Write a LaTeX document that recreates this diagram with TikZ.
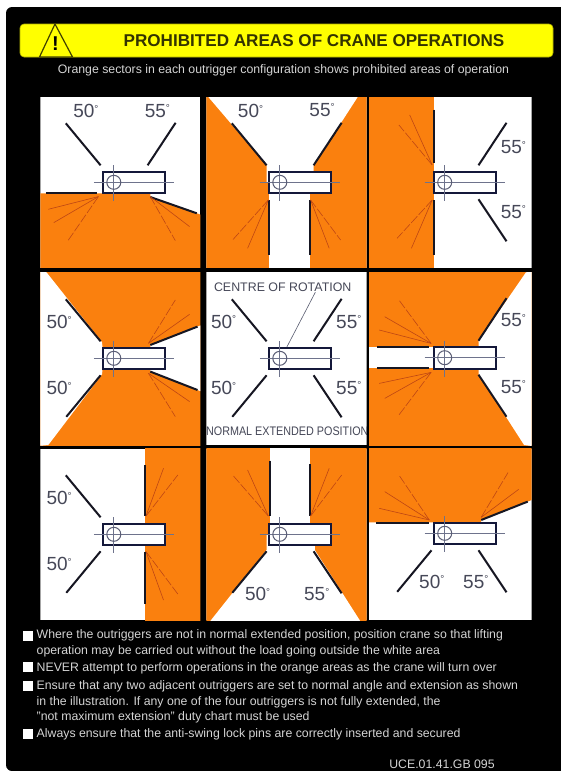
\documentclass[tikz,border=0pt]{standalone}
\usepackage{fontspec}
\setmainfont{Liberation Sans}
\usetikzlibrary{calc,positioning}
\definecolor{craneorange}{RGB}{250,128,14}
\definecolor{signyellow}{RGB}{255,255,0}
\definecolor{rigblack}{RGB}{22,22,34}
\definecolor{framenavy}{RGB}{20,24,58}
\definecolor{crossgrey}{RGB}{110,115,140}
\definecolor{fanred}{RGB}{190,70,20}
\definecolor{labgrey}{RGB}{70,72,88}
\definecolor{notegrey}{RGB}{212,212,212}
\tikzset{
  rigger/.style={rigblack,line width=2pt},
  fanline/.style={fanred,line width=0.6pt},
  fandash/.style={fanline,dashed,dash pattern=on 9pt off 2pt},
  crossline/.style={crossgrey,line width=0.9pt},
  frame/.style={draw=framenavy,fill=white,line width=2pt},
  pivot/.style={draw=framenavy!70,line width=1pt},
  angle/.style={font=\fontsize{19}{21}\selectfont,text=labgrey,inner sep=0pt},
  small/.style={font=\fontsize{12.4}{14}\selectfont,text=labgrey,inner sep=0pt},
  note/.style={anchor=west,font=\fontsize{12.3}{14}\selectfont,text=notegrey,inner sep=0pt},
  tick/.style={fill=white,minimum size=10pt,inner sep=0pt},
}
\newcommand{\dg}{\raisebox{5.5pt}{\fontsize{10}{10}\selectfont °}}
% corner, corner, centre of rotation, contents
\newcommand{\sheet}[4]{%
  \begin{scope}
    \clip #1 rectangle #2;
    \fill[white] #1 rectangle #2;
    \begin{scope}[shift={#3}]
      #4
      \draw[frame] (-10.5,-10.7) rectangle (51,11);
      \draw[crossline] (-20,0) -- (60,0);
      \draw[crossline] (0,-17) -- (0,19);
      \draw[pivot] (0,0) circle (7);
    \end{scope}
  \end{scope}}
\newcommand{\rigUL}{\draw[rigger] (-13.2,-17) -- (-48,-59);}
\newcommand{\rigUR}{\draw[rigger] (33.8,-17) -- (61.8,-59.5);}
\newcommand{\rigDL}{\draw[rigger] (-13.2,17) -- (-47.5,58.5);}
\newcommand{\rigDR}{\draw[rigger] (33.8,17) -- (61.8,59);}

\begin{document}
\begin{tikzpicture}[x=1pt,y=-1pt]
  \path[use as bounding box] (0,0) rectangle (561,771);
  \fill[black,rounded corners=6pt] (6,771) -- (6,7) -- (570,7) -- (570,771) -- cycle;

  % heading
  \draw[signyellow!70!black,fill=signyellow,rounded corners=4pt,line width=0.6pt] (20,24) rectangle (553,57);
  \draw[black!75!signyellow,fill=signyellow,line width=1.2pt,line join=round] (55,24) -- (72.5,57) -- (39.5,57) -- cycle;
  \node[font=\fontsize{20}{22}\bfseries\selectfont,inner sep=0pt] (warnmark) at (55.5,44) {!};
  \node[font=\fontsize{17.1}{19}\bfseries\selectfont,text=black!80!signyellow,inner sep=0pt] (title) at (314,41)
    {PROHIBITED AREAS OF CRANE OPERATIONS};
  \node[font=\fontsize{12.3}{14}\selectfont,text=notegrey,inner sep=0pt] (subtitle) at (283.5,70.7)
    {Orange sectors in each outrigger configuration shows prohibited areas of operation};

  % top row
  \sheet{(40.4,97.3)}{(200.4,267.7)}{(113.8,182.3)}{
    \fill[craneorange] (-80,11) -- (36.5,11) -- (36.5,14.7) -- (83,31) -- (100,37) -- (100,100) -- (-80,100) -- cycle;
    \rigUL \rigUR
    \draw[rigger] (-68,10.7) -- (-16.5,10.7);
    \draw[rigger] (36.5,14.7) -- (83,31);
    \draw[fanline] (-15.4,14.3) -- (-65.5,27);
    \draw[fanline] (-15.4,14.3) -- (-60,40.3);
    \draw[fandash] (-15.4,14.3) -- (-45.8,58.3);
    \draw[fanline] (36.5,14.3) -- (75.8,44.3);
    \draw[fandash] (36.5,14.3) -- (61.5,58.3);
    \node[angle] (a50) at (-27.9,-71.3) {50\dg};
    \node[angle] (a55) at (43.6,-71.3) {55\dg};
  }
  \sheet{(206.4,97.3)}{(366.7,267.7)}{(279.8,182.3)}{
    \fill[craneorange] (-100,-100) rectangle (100,100);
    \fill[white] (-72.5,-86.5) -- (-13.2,-17) -- (-13.2,0) -- (33.8,0) -- (33.8,-17) -- (79,-87) -- cycle;
    \fill[white] (-10.7,0) rectangle (29.7,100);
    \rigUL \rigUR
    \draw[rigger] (-10.7,17.7) -- (-10.7,72.7);
    \draw[rigger] (29.7,17.7) -- (29.7,72.7);
    \draw[fandash] (-11.5,17.7) -- (-47.2,57.7);
    \draw[fanline] (-11.5,17.7) -- (-32.2,66);
    \draw[fandash] (30.8,17.7) -- (60.8,57.7);
    \draw[fanline] (30.8,17.7) -- (49.4,66);
    \node[angle] (b50) at (-29.3,-71.3) {50\dg};
    \node[angle] (b55) at (42.2,-72.3) {55\dg};
  }
  \sheet{(369,97.3)}{(531.5,267.7)}{(444.7,182.3)}{
    \fill[craneorange] (-100,-100) rectangle (-10.7,100);
    \rigUR \rigDR
    \draw[rigger] (-10.7,-72.7) -- (-10.7,-19);
    \draw[rigger] (-10.7,17.7) -- (-10.7,72.7);
    \draw[fandash] (-12.5,-17.3) -- (-45.8,-57.3);
    \draw[fanline] (-12.5,-17.3) -- (-35,-67.3);
    \draw[fandash] (-12.5,17.7) -- (-47.6,56);
    \draw[fanline] (-12.5,17.7) -- (-33.3,66);
    \node[angle] (c55) at (68.7,-35) {55\dg};
    \node[angle] (c55b) at (68.7,29.3) {55\dg};
  }

  % middle row
  \sheet{(40.4,272)}{(200.4,445)}{(113.8,358.3)}{
    \fill[craneorange] (-100,-100) rectangle (100,100);
    \fill[white] (-67.3,-86) -- (-11.8,-16) -- (-10,0) -- (-11.8,16) -- (-65.5,86.7) -- (-100,90) -- (-100,-90) -- cycle;
    \fill[white] (36.5,-13.3) -- (83.7,-31.7) -- (100,-38) -- (100,38) -- (83.7,31.7) -- (36.5,13.3) -- cycle;
    \rigUL \rigDL
    \draw[rigger] (36.5,-13.3) -- (83.7,-31.7);
    \draw[rigger] (36.5,13.3) -- (83.7,31.7);
    \draw[fandash] (34.7,-15) -- (61.5,-58.3);
    \draw[fanline] (34.7,-15) -- (75.8,-44);
    \draw[fanline] (34.7,15) -- (75.8,43.3);
    \draw[fandash] (34.7,15) -- (61.5,58.3);
    \node[angle] (d50) at (-54.7,-36) {50\dg};
    \node[angle] (d50b) at (-54.7,30) {50\dg};
  }
  \sheet{(206.4,272)}{(366.7,445)}{(279.8,358.3)}{
    \rigUL \rigUR \rigDL \rigDR
    \node[angle] (e50) at (-56.2,-36.7) {50\dg};
    \node[angle] (e50b) at (-56.2,30) {50\dg};
    \node[angle] (e55) at (69,-36.7) {55\dg};
    \node[angle] (e55b) at (69,29.3) {55\dg};
    \node[small] (rotlabel) at (2.9,-70.7) {CENTRE OF ROTATION};
    \node[small] (extlabel) at (7.5,73.3) {\scalebox{0.87}[1]{NORMAL EXTENDED POSITION}};
    \coordinate (rotpoint) at (2.9,-3.3);
    \draw[crossgrey!80!black,line width=0.6pt] (rotlabel.-8) -- (rotpoint);
  }
  \sheet{(369,272)}{(531.5,445)}{(444.7,357.7)}{
    \fill[craneorange] (-100,-100) rectangle (100,100);
    \fill[white] (-100,-11) rectangle (-10,10.7);
    \fill[white] (81.2,-85.3) -- (34,-16.7) -- (34,16.7) -- (79.4,87.3) -- (100,90) -- (100,-90) -- cycle;
    \rigUR \rigDR
    \draw[rigger] (-67.3,-11) -- (-16,-11);
    \draw[rigger] (-67.3,10.7) -- (-16,10.7);
    \draw[fanline] (-13.6,-14.3) -- (-65.5,-27.7);
    \draw[fanline] (-13.6,-14.3) -- (-60,-41);
    \draw[fandash] (-13.6,-14.3) -- (-45.8,-57.7);
    \draw[fanline] (-13.6,14.7) -- (-65.5,25.7);
    \draw[fanline] (-13.6,14.7) -- (-60,40.7);
    \draw[fandash] (-13.6,14.7) -- (-45.8,57.3);
    \node[angle] (f55) at (68.7,-37.3) {55\dg};
    \node[angle] (f55b) at (68.7,29) {55\dg};
  }

  % bottom row
  \sheet{(40.4,448.5)}{(200.4,620)}{(113.8,534.3)}{
    \fill[craneorange] (31.1,-100) rectangle (100,100);
    \rigUL \rigDL
    \draw[rigger] (31.1,-69.3) -- (31.1,-18.3);
    \draw[rigger] (31.1,17.3) -- (31.1,69.7);
    \draw[fanline] (32.2,-18.3) -- (49.7,-66);
    \draw[fandash] (32.2,-18.3) -- (64,-59.3);
    \draw[fanline] (32.2,17.3) -- (49.7,65.7);
    \draw[fandash] (32.2,17.3) -- (64,59.7);
    \node[angle] (g50) at (-54.7,-36) {50\dg};
    \node[angle] (g50b) at (-54.7,29.7) {50\dg};
  }
  \sheet{(206.4,448.5)}{(366.7,620)}{(279.8,534.3)}{
    \fill[craneorange] (-100,-100) rectangle (100,100);
    \fill[white] (-9.7,-100) rectangle (29.7,0);
    \fill[white] (-13.2,0) -- (-13.2,15.7) -- (-68.7,85.7) -- (-72,90) -- (82,90) -- (79.8,85.7) -- (35,15.7) -- (35,0) -- cycle;
    \rigDL \rigDR
    \draw[rigger] (-9.7,-73.7) -- (-9.7,-18.3);
    \draw[rigger] (29.7,-70.3) -- (29.7,-18.3);
    \draw[fandash] (-11.5,-18.3) -- (-47.2,-59.3);
    \draw[fanline] (-11.5,-18.3) -- (-32.2,-64.3);
    \draw[fanline] (30.8,-18.3) -- (49.4,-66);
    \draw[fandash] (30.8,-18.3) -- (61.9,-59.3);
    \node[angle] (h50) at (-22.2,60) {50\dg};
    \node[angle] (h55) at (36.9,60) {55\dg};
  }
  \sheet{(369,448.5)}{(531.5,620)}{(444.7,533.3)}{
    \fill[craneorange] (-100,-100) -- (100,-100) -- (100,-38.5) -- (83,-31.7) -- (36.5,-13.3) -- (36.5,-11) -- (-100,-11) -- cycle;
    \rigDL \rigDR
    \draw[rigger] (-68.3,-10.7) -- (-15.4,-10.7);
    \draw[rigger] (36.5,-13.3) -- (83,-31.7);
    \draw[fanline] (-15.4,-13.3) -- (-65.5,-25);
    \draw[fanline] (-15.4,-13.3) -- (-60,-41.7);
    \draw[fandash] (-15.4,-13.3) -- (-45.8,-58.3);
    \draw[fanline] (36.5,-16) -- (74,-44);
    \draw[fandash] (36.5,-16) -- (63.3,-60.7);
    \node[angle] (i50) at (-12.9,48.3) {50\dg};
    \node[angle] (i55) at (31.1,48.3) {55\dg};
  }

  % notes
  \foreach \y/\name in {635.5/ta,667/tb,686/tc,733.7/td}
    \node[tick] (\name) at (28,\y) {};
  \node[note] (n1) at (36.5,635.5) {Where the outriggers are not in normal extended position, position crane so that lifting};
  \node[note] (n2) at (36.5,651.7) {operation may be carried out without the load going outside the white area};
  \node[note] (n3) at (36.5,668.3) {NEVER attempt to perform operations in the orange areas as the crane will turn over};
  \node[note] (n4) at (36.5,686) {Ensure that any two adjacent outriggers are set to normal angle and extension as shown};
  \node[note] (n5) at (36.5,702) {in the illustration.  If any one of the four outriggers is not fully extended, the};
  \node[note] (n6) at (36.5,717) {"not maximum extension" duty chart must be used};
  \node[note] (n7) at (36.5,734) {Always ensure that the anti-swing lock pins are correctly inserted and secured};
  \node[note,anchor=center] (code) at (442,764) {UCE.01.41.GB 095};
\end{tikzpicture}
\end{document}
